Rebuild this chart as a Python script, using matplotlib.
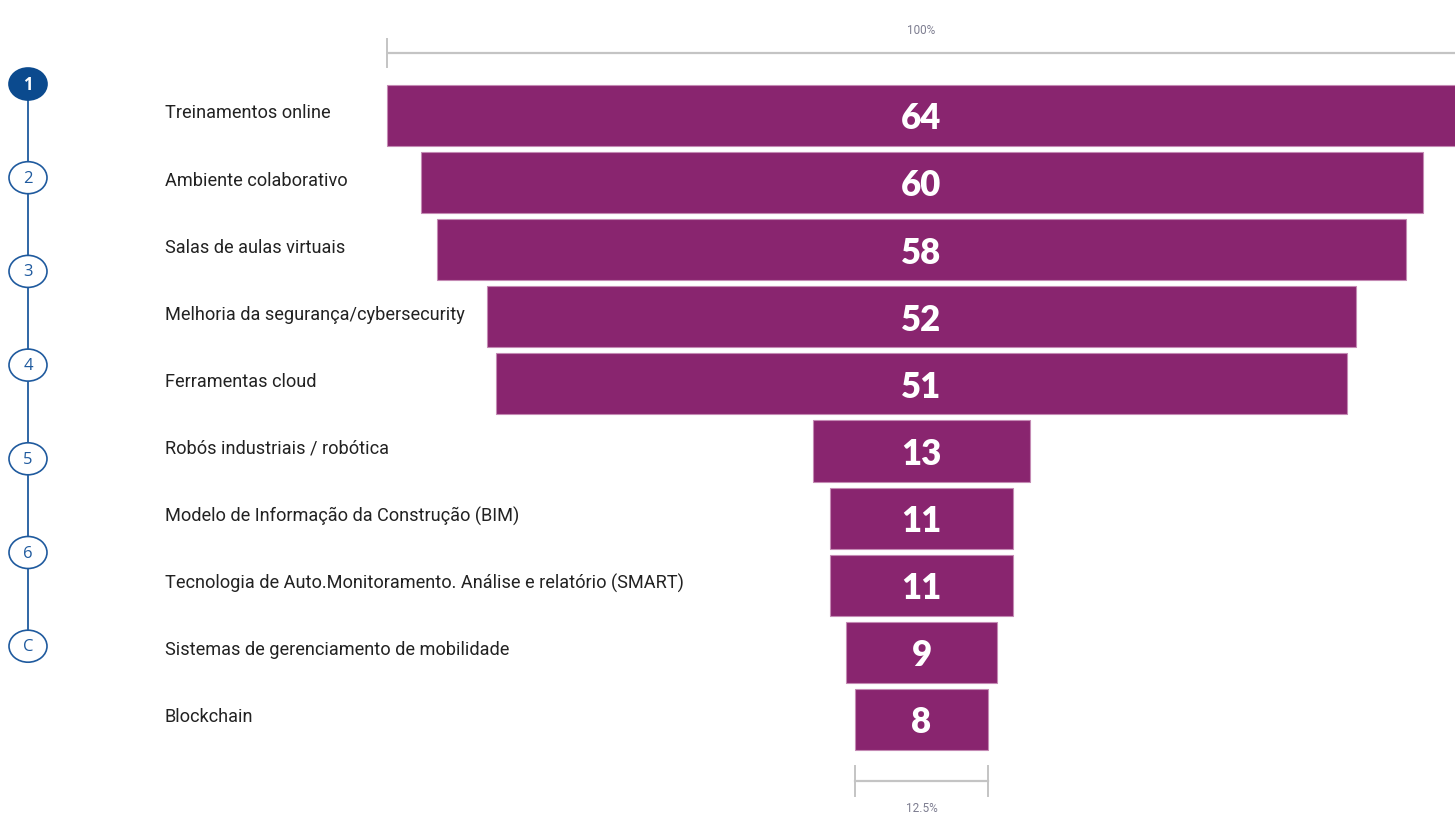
import matplotlib
matplotlib.use("Agg")
import matplotlib.pyplot as plt
from matplotlib import font_manager
from matplotlib.patches import Ellipse
import matplotlib.transforms as mtransforms

# Data
categories = [
    "Treinamentos online",
    "Ambiente colaborativo",
    "Salas de aulas virtuais",
    "Melhoria da segurança/cybersecurity",
    "Ferramentas cloud",
    "Robós industriais / robótica",
    "Modelo de Informação da Construção (BIM)",
    "Tecnologia de Auto.Monitoramento. Análise e relatório (SMART)",
    "Sistemas de gerenciamento de mobilidade",
    "Blockchain",
]
values = [64, 60, 58, 52, 51, 13, 11, 11, 9, 8]
nav_labels = ["1", "2", "3", "4", "5", "6", "C"]

BAR_COLOR = "#89256f"
BAR_EDGE = "#c48ab4"
NAV_BLUE = "#1f5a9e"
NAV_FILL = "#0b4a8e"
SCALE_GRAY = "#c4c4c4"

installed = {f.name for f in font_manager.fontManager.ttflist}
label_font = "Roboto" if "Roboto" in installed else "Open Sans"
value_font = "Lato" if "Lato" in installed else "DejaVu Sans"

W, H, DPI = 1455, 815, 100
fig = plt.figure(figsize=(W / DPI, H / DPI), dpi=DPI)
fig.patch.set_facecolor("white")

# Main axes covers the whole canvas; x in value units centred on the funnel axis
ax = fig.add_axes([0, 0, 1, 1])
px_per_unit = 16.7
x_center_px = 921.5
y0_px, pitch_px = 115.5, 67.1
ax.set_xlim((0 - x_center_px) / px_per_unit, (W - x_center_px) / px_per_unit)
ax.set_ylim((H - y0_px) / pitch_px, (0 - y0_px) / pitch_px)
ax.axis("off")

ypos = list(range(len(values)))
ax.barh(ypos, values, left=[-v / 2 for v in values], height=0.91,
        color=BAR_COLOR, edgecolor=BAR_EDGE, linewidth=0.8)

for y, v in zip(ypos, values):
    ax.text(0, y + 0.05, str(v), ha="center", va="center", color="white",
            fontsize=25, fontweight="heavy", family=[value_font, "DejaVu Sans"])

label_tr = mtransforms.blended_transform_factory(fig.transFigure, ax.transData)
for y, c in zip(ypos, categories):
    ax.text(165 / W, y - 0.03, c, transform=label_tr, ha="left", va="center",
            fontsize=13.1, color="#222222", family=[label_font, "DejaVu Sans"])

# Scale brackets: full width (max) on top, smallest bar at the bottom
vmax, vmin = max(values), min(values)
top_y = (53 - y0_px) / pitch_px
tick_h = 14 / pitch_px
ax.plot([-vmax / 2, vmax / 2], [top_y, top_y], color=SCALE_GRAY, lw=1.6,
        solid_capstyle="butt", clip_on=False)
ax.plot([-vmax / 2, -vmax / 2], [top_y - tick_h, top_y + tick_h], color=SCALE_GRAY, lw=1.4)
ax.text(0, (30 - y0_px) / pitch_px, "100%", ha="center", va="center",
        fontsize=8.5, color="#7d7d90", family=[label_font, "DejaVu Sans"])

bot_y = (781 - y0_px) / pitch_px
tick_b = 15 / pitch_px
ax.plot([-vmin / 2, vmin / 2], [bot_y, bot_y], color=SCALE_GRAY, lw=1.6)
for xe in (-vmin / 2, vmin / 2):
    ax.plot([xe, xe], [bot_y - tick_b, bot_y + tick_b], color=SCALE_GRAY, lw=1.4)
ax.text(0, (808 - y0_px) / pitch_px, f"{vmin / vmax * 100:.1f}%", ha="center", va="center",
        fontsize=8.5, color="#7d7d90", family=[label_font, "DejaVu Sans"])

# Side navigation: numbered steps joined by a vertical line
nav = fig.add_axes([0, 0, 1, 1], facecolor="none")
nav.set_xlim(0, W)
nav.set_ylim(H, 0)
nav.axis("off")
nav_x = 28
nav_y0, nav_step = 84, 93.7
nav_ys = [nav_y0 + i * nav_step for i in range(len(nav_labels))]
nav.plot([nav_x, nav_x], [nav_ys[0], nav_ys[-1]], color=NAV_BLUE, lw=1.3, zorder=1)
for i, (lab, yy) in enumerate(zip(nav_labels, nav_ys)):
    active = i == 0
    e = Ellipse((nav_x, yy), 38, 32, facecolor=NAV_FILL if active else "white",
                edgecolor=NAV_FILL if active else NAV_BLUE, lw=1.2, zorder=2)
    nav.add_patch(e)
    nav.text(nav_x, yy + 1, lab, ha="center", va="center", zorder=3,
             color="white" if active else NAV_BLUE,
             fontsize=12, fontweight="bold" if active else "normal",
             family=["Open Sans", "DejaVu Sans"])

fig.savefig("out.png", dpi=DPI, facecolor="white")
